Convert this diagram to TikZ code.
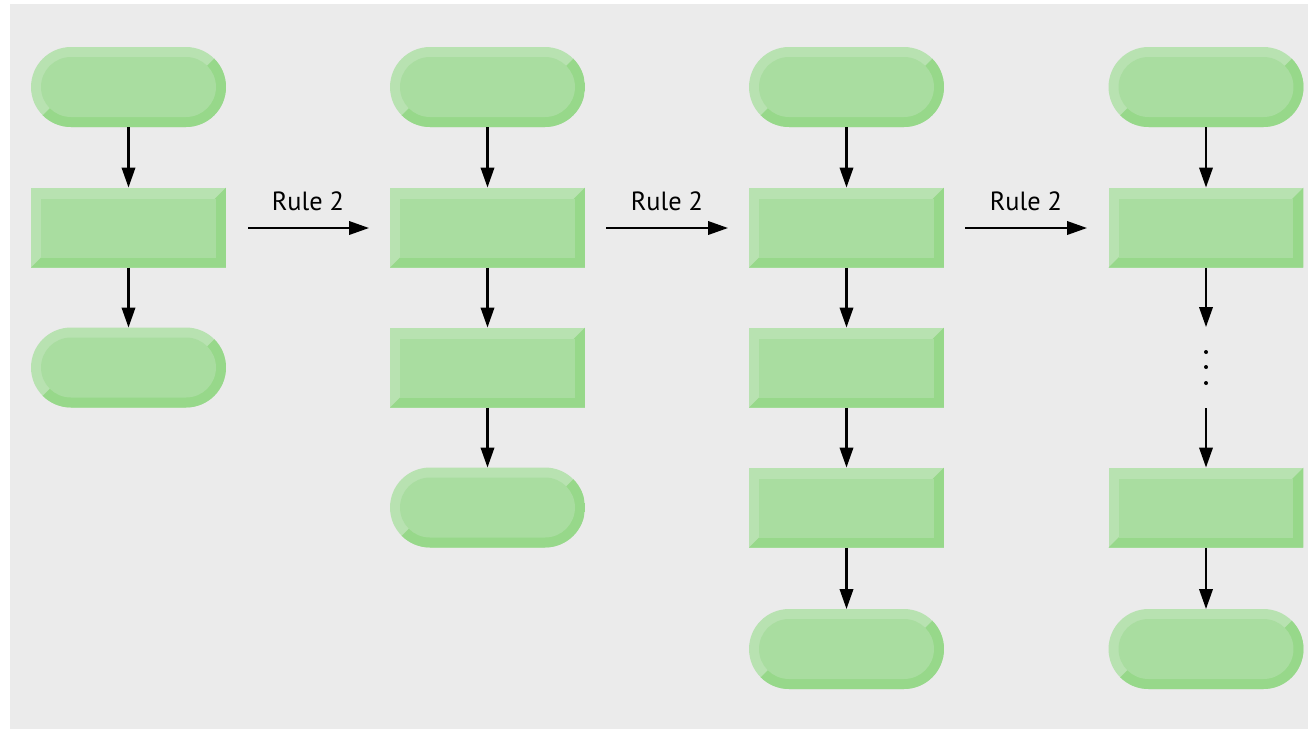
\documentclass[tikz,border=0pt]{standalone}
\usepackage{fontspec}
\setmainfont{PT Sans}
\usetikzlibrary{arrows.meta,calc}
\definecolor{bgg}{HTML}{EBEBEB}
\definecolor{lightg}{HTML}{B8E2B1}
\definecolor{midg}{HTML}{A9DDA0}
\definecolor{darkg}{HTML}{97D88A}
\tikzset{
  boxnode/.style={inner sep=0pt, outer sep=0pt, minimum width=3.9cm, minimum height=1.6cm},
  arr/.style={line width=1.2pt, -{Triangle[length=0.4cm,width=0.27cm]}},
  rulelbl/.style={font=\fontsize{15}{18}\selectfont, inner sep=0pt},
  dotmark/.style={circle, fill=black, inner sep=0pt, minimum size=0.08cm}
}
\newcommand{\termbox}[2]{%
  \node[boxnode] (#1) at (#2) {};
  \fill[lightg, rounded corners=0.8cm] (#1.south west) rectangle (#1.north east);
  \begin{scope}
    \clip[rounded corners=0.8cm] (#1.south west) rectangle (#1.north east);
    \fill[darkg] (#1.south west) -- ++(40,-40) -- ($(#1.north east)+(-40,40)$) -- (#1.north east) -- (#1.south east) -- cycle;
  \end{scope}
  \fill[midg, rounded corners=0.6cm] ($(#1.south west)+(10,-10)$) rectangle ($(#1.north east)+(-10,10)$);
}
\newcommand{\procbox}[2]{%
  \node[boxnode] (#1) at (#2) {};
  \fill[lightg] (#1.south west) rectangle (#1.north east);
  \fill[darkg] (#1.south west) -- ++(40,-40) -- ($(#1.north east)+(-40,40)$) -- (#1.north east) -- (#1.south east) -- cycle;
  \fill[midg] ($(#1.south west)+(10,-10)$) rectangle ($(#1.north east)+(-10,11)$);
}
\begin{document}
\begin{tikzpicture}[x=0.02cm,y=-0.02cm]
\useasboundingbox (0,0) rectangle (1308,728);
\fill[white] (-10,-10) rectangle (1320,740);
\fill[bgg] (10,4) rectangle (1320,740);
% column 1
\termbox{a1}{128.5,87}
\procbox{a2}{128.5,227.5}
\termbox{a3}{128.5,367.5}
\draw[arr] (a1.south) -- (a2.north);
\draw[arr] (a2.south) -- (a3.north);
% column 2
\termbox{b1}{487.5,87}
\procbox{b2}{487.5,227.5}
\procbox{b3}{487.5,367.5}
\termbox{b4}{487.5,507.5}
\draw[arr] (b1.south) -- (b2.north);
\draw[arr] (b2.south) -- (b3.north);
\draw[arr] (b3.south) -- (b4.north);
% column 3
\termbox{c1}{846.5,87}
\procbox{c2}{846.5,227.5}
\procbox{c3}{846.5,367.5}
\procbox{c4}{846.5,507.5}
\termbox{c5}{846.5,649}
\draw[arr] (c1.south) -- (c2.north);
\draw[arr] (c2.south) -- (c3.north);
\draw[arr] (c3.south) -- (c4.north);
\draw[arr] (c4.south) -- (c5.north);
% column 4
\termbox{d1}{1206,87}
\procbox{d2}{1206,227.5}
\procbox{d3}{1206,507.5}
\termbox{d4}{1206,649}
\coordinate (g1) at (1206,327);
\coordinate (g2) at (1206,408);
\node[dotmark] (k1) at (1206,352) {};
\node[dotmark] (k2) at (1206,367) {};
\node[dotmark] (k3) at (1206,383) {};
\draw[arr] (d1.south) -- (d2.north);
\draw[arr] (d2.south) -- (g1);
\draw[arr] (g2) -- (d3.north);
\draw[arr] (d3.south) -- (d4.north);
% rule arrows
\coordinate (r1s) at (248,228); \coordinate (r1e) at (369,228);
\coordinate (r2s) at (606,228); \coordinate (r2e) at (728,228);
\coordinate (r3s) at (965,228); \coordinate (r3e) at (1087,228);
\draw[arr] (r1s) -- (r1e);
\draw[arr] (r2s) -- (r2e);
\draw[arr] (r3s) -- (r3e);
\node[rulelbl] (l1) at (308,201) {Rule 2};
\node[rulelbl] (l2) at (667,201) {Rule 2};
\node[rulelbl] (l3) at (1026,201) {Rule 2};
\end{tikzpicture}
\end{document}
